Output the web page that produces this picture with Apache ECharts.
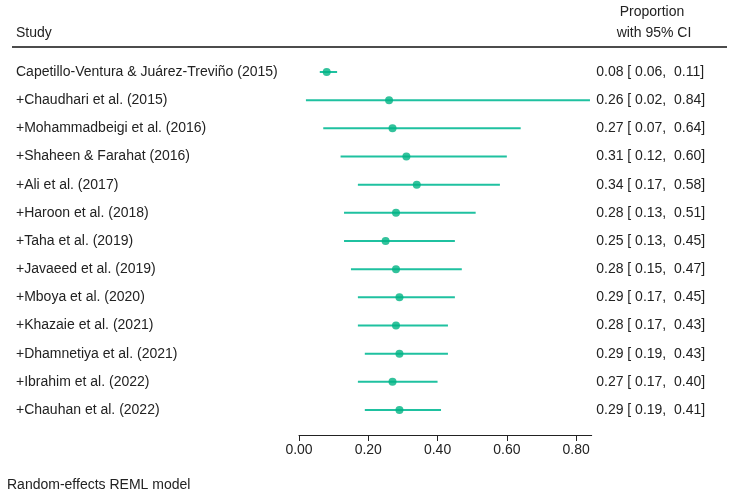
<!DOCTYPE html>
<html><head><meta charset="utf-8">
<script src="https://cdn.jsdelivr.net/npm/echarts@6/dist/echarts.min.js"></script>
<style>html,body{margin:0;padding:0;background:#fff}#c{width:737px;height:498px}</style>
</head><body><div id="c"></div>
<script>
const studies = [
  'Capetillo-Ventura & Juárez-Treviño (2015)',
  '+Chaudhari et al. (2015)',
  '+Mohammadbeigi et al. (2016)',
  '+Shaheen & Farahat (2016)',
  '+Ali et al. (2017)',
  '+Haroon et al. (2018)',
  '+Taha et al. (2019)',
  '+Javaeed et al. (2019)',
  '+Mboya et al. (2020)',
  '+Khazaie et al. (2021)',
  '+Dhamnetiya et al. (2021)',
  '+Ibrahim et al. (2022)',
  '+Chauhan et al. (2022)'
];
const est   = [0.08, 0.26, 0.27, 0.31, 0.34, 0.28, 0.25, 0.28, 0.29, 0.28, 0.29, 0.27, 0.29];
const lower = [0.06, 0.02, 0.07, 0.12, 0.17, 0.13, 0.13, 0.15, 0.17, 0.17, 0.19, 0.17, 0.19];
const upper = [0.11, 0.84, 0.64, 0.60, 0.58, 0.51, 0.45, 0.47, 0.45, 0.43, 0.43, 0.40, 0.41];
const xTicks = [0, 0.2, 0.4, 0.6, 0.8];

const ciLabels = est.map((e, i) => e.toFixed(2) + ' [ ' + lower[i].toFixed(2) + ',  ' + upper[i].toFixed(2) + ']');
const FONT = 'Liberation Sans, Arial, sans-serif';
const TXT = '#222';
const FS = 14;

const chart = echarts.init(document.getElementById('c'), null, {renderer: 'canvas'});
chart.setOption({
  animation: false,
  backgroundColor: '#fff',
  textStyle: {fontFamily: FONT},
  grid: {left: 299, right: 145.3, top: 72, bottom: 88, containLabel: false},
  xAxis: {
    type: 'value', min: 0, max: 0.845, position: 'bottom', offset: 25,
    axisLine: {show: true, lineStyle: {color: '#222', width: 1}},
    axisTick: {show: true, length: 6, lineStyle: {color: '#222'}, customValues: xTicks},
    axisLabel: {customValues: xTicks, formatter: v => v.toFixed(2), color: TXT, fontSize: FS, margin: 8, fontFamily: FONT},
    splitLine: {show: false}
  },
  yAxis: [
    {
      type: 'category', data: studies, inverse: true, boundaryGap: false,
      axisLine: {show: false}, axisTick: {show: false}, splitLine: {show: false},
      axisLabel: {align: 'left', margin: 283, color: TXT, fontSize: FS, fontFamily: FONT, interval: 0}
    },
    {
      type: 'category', data: ciLabels, inverse: true, boundaryGap: false, position: 'right',
      axisLine: {show: false}, axisTick: {show: false}, splitLine: {show: false},
      axisLabel: {align: 'left', margin: 4.5, color: TXT, fontSize: FS, fontFamily: FONT, interval: 0}
    }
  ],
  graphic: [
    {type: 'line', shape: {x1: 12, y1: 47, x2: 727, y2: 47}, style: {stroke: '#111', lineWidth: 1.5}},
    {type: 'text', x: 16, y: 33, style: {text: 'Study', fontSize: FS, fill: TXT, fontFamily: FONT, verticalAlign: 'middle'}},
    {type: 'text', x: 652, y: 12, style: {text: 'Proportion', fontSize: FS, fill: TXT, fontFamily: FONT, align: 'center', verticalAlign: 'middle'}},
    {type: 'text', x: 654, y: 33, style: {text: 'with 95% CI', fontSize: FS, fill: TXT, fontFamily: FONT, align: 'center', verticalAlign: 'middle'}},
    {type: 'text', x: 7, y: 485, style: {text: 'Random-effects REML model', fontSize: FS, fill: TXT, fontFamily: FONT, verticalAlign: 'middle'}}
  ],
  series: [
    {
      type: 'custom',
      data: lower.map((l, i) => [l, upper[i], i]),
      encode: {x: [0, 1], y: 2},
      renderItem: (params, api) => {
        const a = api.coord([api.value(0), api.value(2)]);
        const b = api.coord([api.value(1), api.value(2)]);
        return {type: 'line', shape: {x1: a[0], y1: a[1], x2: b[0], y2: b[1]}, style: {stroke: '#1fc1a0', lineWidth: 2}};
      },
      silent: true, z: 2
    },
    {
      type: 'scatter',
      data: est.map((e, i) => [e, i]),
      symbol: 'circle', symbolSize: 8,
      itemStyle: {color: '#00b383'},
      silent: true, z: 3
    }
  ]
});
</script>
</body></html>
